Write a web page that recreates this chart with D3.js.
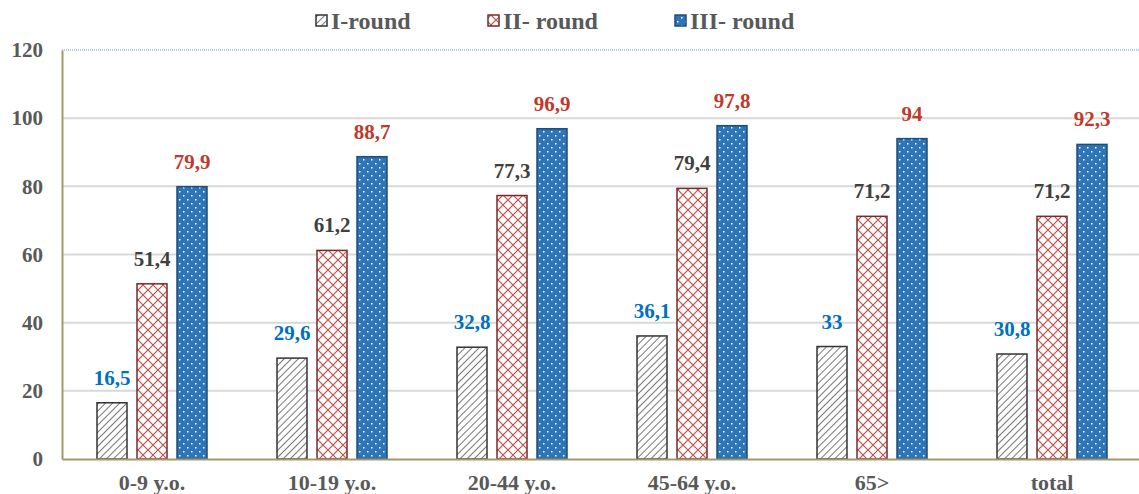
<!DOCTYPE html>
<html>
<head>
<meta charset="utf-8">
<script src="https://cdn.jsdelivr.net/npm/d3@7"></script>
<style>
  body { margin: 0; background: #fff; }
  svg { display: block; font-family: "Liberation Serif", "DejaVu Serif", serif; }
</style>
</head>
<body>
<svg></svg>
<script>
const categories = ["0-9 y.o.", "10-19 y.o.", "20-44 y.o.", "45-64 y.o.", "65>", "total"];
const seriesNames = ["I-round", "II- round", "III- round"];
const round1 = [16.5, 29.6, 32.8, 36.1, 33, 30.8];
const round2 = [51.4, 61.2, 77.3, 79.4, 71.2, 71.2];
const round3 = [79.9, 88.7, 96.9, 97.8, 94, 92.3];
const yTicks = [0, 20, 40, 60, 80, 100, 120];

const W = 1139, H = 494;
const margin = { top: 50, right: -3, bottom: 35, left: 62 };
const width = W - margin.left - margin.right;
const height = H - margin.top - margin.bottom;

const svg = d3.select("svg").attr("width", W).attr("height", H);

// patterns
const defs = svg.append("defs");
const p1 = defs.append("pattern").attr("id", "pat1")
  .attr("patternUnits", "userSpaceOnUse").attr("width", 5).attr("height", 5)
  .attr("patternTransform", "rotate(45)");
p1.append("rect").attr("width", 5).attr("height", 5).attr("fill", "#fff");
p1.append("line").attr("x1", 0).attr("y1", 0).attr("x2", 0).attr("y2", 5)
  .attr("stroke", "#555").attr("stroke-width", 1.6);

const p2 = defs.append("pattern").attr("id", "pat2")
  .attr("patternUnits", "userSpaceOnUse").attr("width", 10).attr("height", 10)
  .attr("patternTransform", "translate(136,0)");
p2.append("rect").attr("width", 10).attr("height", 10).attr("fill", "#fff");
p2.append("path").attr("d", "M0,0L10,10M10,0L0,10")
  .attr("stroke", "#c0504d").attr("stroke-width", 1.2);

const p3 = defs.append("pattern").attr("id", "pat3")
  .attr("patternUnits", "userSpaceOnUse").attr("width", 8).attr("height", 8);
p3.append("rect").attr("width", 8).attr("height", 8).attr("fill", "#2e75b6");
p3.append("rect").attr("x", 1).attr("y", 1).attr("width", 1.5).attr("height", 1.5).attr("fill", "#fff");
p3.append("rect").attr("x", 5).attr("y", 5).attr("width", 1.5).attr("height", 1.5).attr("fill", "#fff");

const fills = ["url(#pat1)", "url(#pat2)", "url(#pat3)"];
const strokes = ["#333", "#7b2a2a", "#1f4e79"];
const labelColors = ["#0070c0", "#404040", "#c0392b"];

const g = svg.append("g").attr("transform", `translate(${margin.left},${margin.top})`);

const x = d3.scaleBand().domain(categories).range([0, width]).padding(0);
const x1 = d3.scaleBand().domain([0, 1, 2]).range([x.bandwidth() / 2 - 60, x.bandwidth() / 2 + 60]).paddingInner(0.25).paddingOuter(0.125);
const y = d3.scaleLinear().domain([0, 120]).range([height, 0]);

// gridlines
g.selectAll(".grid").data(yTicks.filter(t => t > 0 && t < 120)).enter().append("line")
  .attr("x1", 0).attr("x2", width - 3)
  .attr("y1", d => y(d)).attr("y2", d => y(d))
  .attr("stroke", "#d9d9d9").attr("stroke-width", 2);
g.append("line").attr("x1", 0).attr("x2", width - 3).attr("y1", y(120)).attr("y2", y(120))
  .attr("stroke", "#5b9bd5").attr("stroke-width", 1.2).attr("stroke-dasharray", "1,1");

// bars
const allSeries = [round1, round2, round3];
allSeries.forEach((vals, si) => {
  const grp = g.append("g");
  grp.selectAll("rect").data(vals).enter().append("rect")
    .attr("x", (d, i) => x(categories[i]) + x1(si))
    .attr("y", d => y(d))
    .attr("width", x1.bandwidth())
    .attr("height", d => height - y(d))
    .attr("fill", fills[si])
    .attr("stroke", strokes[si]).attr("stroke-width", 1.5);
  grp.selectAll("text").data(vals).enter().append("text")
    .attr("x", (d, i) => x(categories[i]) + x1(si) + x1.bandwidth() / 2)
    .attr("y", d => y(d) - 18)
    .attr("text-anchor", "middle")
    .attr("font-size", 21).attr("font-weight", "bold")
    .attr("fill", labelColors[si])
    .text(d => String(d).replace(".", ","));
});

// axes
const yAxis = g.append("g").call(d3.axisLeft(y).tickValues(yTicks).tickSize(0).tickPadding(19));
yAxis.select(".domain").attr("stroke", "#a39a6b").attr("stroke-width", 2);
yAxis.selectAll("text").attr("font-size", 21).attr("font-weight", "bold").attr("fill", "#595959")
  .attr("font-family", "Liberation Serif, serif");

const xAxis = g.append("g").attr("transform", `translate(0,${height})`)
  .call(d3.axisBottom(x).tickSize(0).tickPadding(15));
xAxis.select(".domain").attr("stroke", "#a39a6b").attr("stroke-width", 2);
xAxis.selectAll("text").attr("font-size", 22).attr("font-weight", "bold").attr("fill", "#595959")
  .attr("font-family", "Liberation Serif, serif");

// legend
const legendX = [316, 488, 675];
const legend = svg.append("g");
seriesNames.forEach((name, i) => {
  legend.append("rect").attr("x", legendX[i]).attr("y", 15).attr("width", 11).attr("height", 11)
    .attr("fill", fills[i]).attr("stroke", strokes[i]).attr("stroke-width", 1.5);
  legend.append("text").attr("x", legendX[i] + 15).attr("y", 29)
    .attr("font-size", 24).attr("font-weight", "bold").attr("fill", "#595959")
    .text(name);
});
</script>
</body>
</html>
